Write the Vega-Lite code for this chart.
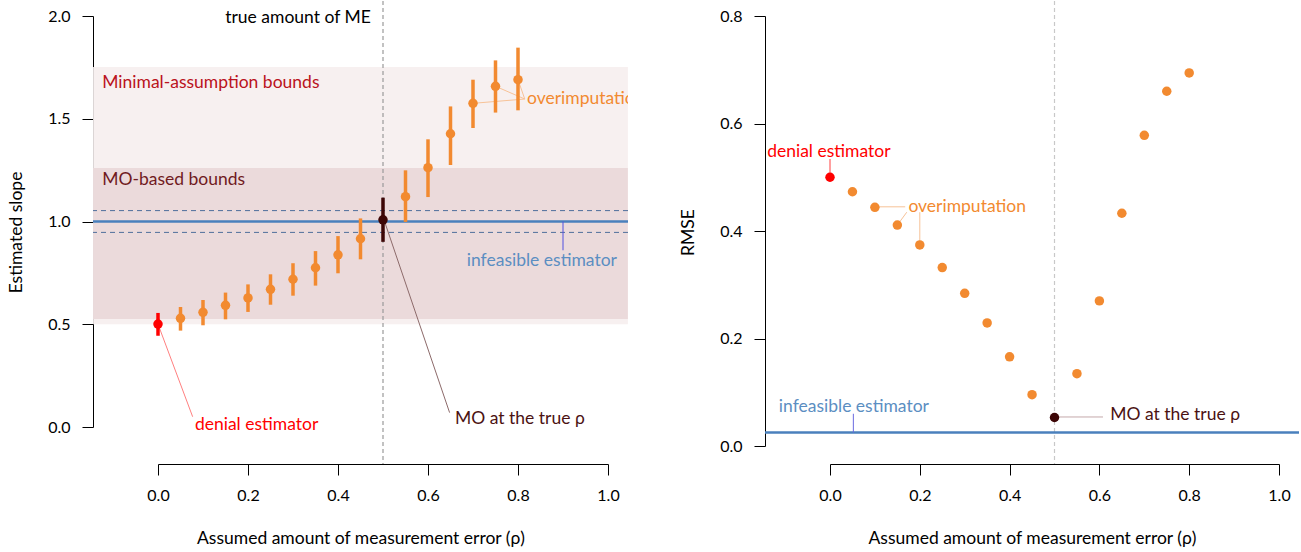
{
  "$schema": "https://vega.github.io/schema/vega-lite/v6.json",
  "padding": {"left": 7, "top": 0, "right": 0, "bottom": 0},
  "background": "white",
  "spacing": 49,
  "config": {
    "font": "Lato",
    "view": {"stroke": null},
    "axis": {"grid": false, "domainColor": "#000", "tickColor": "#000", "tickSize": 11, "labelFontSize": 16, "titleFontSize": 17.5, "titleFontWeight": "normal", "labelColor": "#000", "titleColor": "#000", "labelFont": "Lato", "titleFont": "Lato", "domainWidth": 1, "tickWidth": 1, "labelFlush": false, "labelOverlap": false},
    "axisX": {"labelPadding": 12, "titlePadding": 26},
    "axisY": {"labelPadding": 12, "titlePadding": 22, "labelAngle": 0},
    "text": {"fontSize": 17.5, "baseline": "middle"}
  },
  "hconcat": [
    {
      "width": 535,
      "height": 463,
      "resolve": {"scale": {"color": "independent"}},
      "layer": [
        {
          "data": {"values": [
            {"x": -0.1442, "x2": 1.0442, "lo": 0.5, "hi": 1.752, "band": "min"},
            {"x": -0.1442, "x2": 1.0442, "lo": 0.525, "hi": 1.26, "band": "mo"}
          ]},
          "mark": {"type": "rect"},
          "encoding": {
            "x": {"field": "x", "type": "quantitative", "scale": {"domain": [0, 1], "range": [65, 515]}, "axis": {"title": "Assumed amount of measurement error (ρ)", "values": [0, 0.2, 0.4, 0.6, 0.8, 1], "format": ".1f", "titleX": 267.5}},
            "x2": {"field": "x2"},
            "y": {"field": "lo", "type": "quantitative", "scale": {"domain": [0, 2], "range": [426, 15]}, "axis": {"title": "Estimated slope", "values": [0, 0.5, 1, 1.5, 2], "format": ".1f", "titleY": 231}},
            "y2": {"field": "hi"},
            "color": {"field": "band", "type": "nominal", "scale": {"domain": ["min", "mo"], "range": ["#F7F0F0", "#EBDADB"]}, "legend": null}
          }
        },
        {
          "data": {"values": [{"x": 0.5}]},
          "mark": {"type": "rule", "color": "#9a9a9a", "strokeDash": [4, 3], "strokeWidth": 1.2},
          "encoding": {"x": {"field": "x", "type": "quantitative"}}
        },
        {
          "data": {"values": [{"y": 1.053}, {"y": 0.947}]},
          "mark": {"type": "rule", "color": "#4f6f9c", "strokeDash": [5, 4], "strokeWidth": 1},
          "encoding": {"y": {"field": "y", "type": "quantitative"}}
        },
        {
          "data": {"values": [{"y": 1.0}]},
          "mark": {"type": "rule", "color": "#4A80BD", "strokeWidth": 2.5},
          "encoding": {"y": {"field": "y", "type": "quantitative"}}
        },
        {
          "data": {"values": [
            {"x": 0.003, "y": 0.483, "x2": 0.077, "y2": 0.05, "kind": "denial"},
            {"x": 0.505, "y": 0.99, "x2": 0.648, "y2": 0.07, "kind": "mo"},
            {"x": 0.9, "y": 1.0, "x2": 0.9, "y2": 0.86, "kind": "inf"},
            {"x": 0.7, "y": 1.575, "x2": 0.815, "y2": 1.596, "kind": "over"},
            {"x": 0.75, "y": 1.658, "x2": 0.815, "y2": 1.596, "kind": "over"},
            {"x": 0.8, "y": 1.69, "x2": 0.815, "y2": 1.596, "kind": "over"}
          ]},
          "mark": {"type": "rule", "strokeWidth": 1},
          "encoding": {
            "x": {"field": "x", "type": "quantitative"},
            "x2": {"field": "x2"},
            "y": {"field": "y", "type": "quantitative"},
            "y2": {"field": "y2"},
            "color": {"field": "kind", "type": "nominal", "scale": {"domain": ["denial", "mo", "inf", "over"], "range": ["#ff8080", "#8c6a6a", "#5050e0", "#f7c297"]}, "legend": null}
          }
        },
        {
          "data": {"values": [
            {"rho": 0, "est": 0.501, "lo": 0.444, "hi": 0.555, "type": "denial"},
            {"rho": 0.05, "est": 0.529, "lo": 0.469, "hi": 0.584, "type": "other"},
            {"rho": 0.1, "est": 0.558, "lo": 0.495, "hi": 0.618, "type": "other"},
            {"rho": 0.15, "est": 0.592, "lo": 0.524, "hi": 0.654, "type": "other"},
            {"rho": 0.2, "est": 0.628, "lo": 0.56, "hi": 0.694, "type": "other"},
            {"rho": 0.25, "est": 0.67, "lo": 0.595, "hi": 0.743, "type": "other"},
            {"rho": 0.3, "est": 0.719, "lo": 0.639, "hi": 0.797, "type": "other"},
            {"rho": 0.35, "est": 0.775, "lo": 0.688, "hi": 0.856, "type": "other"},
            {"rho": 0.4, "est": 0.838, "lo": 0.748, "hi": 0.929, "type": "other"},
            {"rho": 0.45, "est": 0.916, "lo": 0.816, "hi": 1.015, "type": "other"},
            {"rho": 0.5, "est": 1.008, "lo": 0.901, "hi": 1.116, "type": "mo"},
            {"rho": 0.55, "est": 1.121, "lo": 0.998, "hi": 1.249, "type": "other"},
            {"rho": 0.6, "est": 1.262, "lo": 1.119, "hi": 1.4, "type": "other"},
            {"rho": 0.65, "est": 1.427, "lo": 1.275, "hi": 1.56, "type": "other"},
            {"rho": 0.7, "est": 1.575, "lo": 1.455, "hi": 1.69, "type": "other"},
            {"rho": 0.75, "est": 1.658, "lo": 1.53, "hi": 1.784, "type": "other"},
            {"rho": 0.8, "est": 1.69, "lo": 1.541, "hi": 1.846, "type": "other"}
          ]},
          "layer": [
            {
              "mark": {"type": "rule", "strokeWidth": 3.5},
              "encoding": {
                "x": {"field": "rho", "type": "quantitative"},
                "y": {"field": "lo", "type": "quantitative"},
                "y2": {"field": "hi"},
                "color": {"field": "type", "type": "nominal", "scale": {"domain": ["denial", "mo", "other"], "range": ["#ff0000", "#3d0606", "#F28A30"]}, "legend": null}
              }
            },
            {
              "mark": {"type": "circle", "size": 90, "opacity": 1},
              "encoding": {
                "x": {"field": "rho", "type": "quantitative"},
                "y": {"field": "est", "type": "quantitative"},
                "color": {"field": "type", "type": "nominal", "legend": null}
              }
            }
          ]
        },
        {
          "data": {"values": [
            {"x": 0.473, "y": 1.99, "label": "true amount of ME"}
          ]},
          "mark": {"type": "text", "align": "right", "color": "#000000"},
          "encoding": {
            "x": {"field": "x", "type": "quantitative"},
            "y": {"field": "y", "type": "quantitative"},
            "text": {"field": "label"}
          }
        },
        {
          "data": {"values": [
            {"x": 0.853, "y": 0.81, "label": "infeasible estimator"}
          ]},
          "mark": {"type": "text", "align": "center", "color": "#5B8EC2"},
          "encoding": {
            "x": {"field": "x", "type": "quantitative"},
            "y": {"field": "y", "type": "quantitative"},
            "text": {"field": "label"}
          }
        },
        {
          "data": {"values": [
            {"x": 0.82, "y": 1.596, "label": "overimputation", "kind": "over"},
            {"x": 0.082, "y": 0.01, "label": "denial estimator", "kind": "denial"},
            {"x": 0.66, "y": 0.039, "label": "MO at the true ρ", "kind": "mo"},
            {"x": -0.124, "y": 1.674, "label": "Minimal-assumption bounds", "kind": "min"},
            {"x": -0.124, "y": 1.202, "label": "MO-based bounds", "kind": "mob"}
          ]},
          "mark": {"type": "text", "align": "left", "clip": true},
          "encoding": {
            "x": {"field": "x", "type": "quantitative"},
            "y": {"field": "y", "type": "quantitative"},
            "text": {"field": "label"},
            "color": {"field": "kind", "type": "nominal", "scale": {"domain": ["over", "denial", "mo", "min", "mob"], "range": ["#F28A30", "#ff0000", "#4B1212", "#BA1320", "#701A1E"]}, "legend": null}
          }
        }
      ]
    },
    {
      "width": 534,
      "height": 463,
      "resolve": {"scale": {"color": "independent"}},
      "layer": [
        {
          "data": {"values": [{"x": 0.5}]},
          "mark": {"type": "rule", "color": "#c8c8c8", "strokeDash": [4, 3], "strokeWidth": 1.2},
          "encoding": {"x": {"field": "x", "type": "quantitative", "scale": {"domain": [0, 1], "range": [65, 514]}, "axis": {"title": "Assumed amount of measurement error (ρ)", "values": [0, 0.2, 0.4, 0.6, 0.8, 1], "format": ".1f", "titleX": 267}}}
        },
        {
          "data": {"values": [{"y": 0.025}]},
          "mark": {"type": "rule", "color": "#4A80BD", "strokeWidth": 2.5},
          "encoding": {"y": {"field": "y", "type": "quantitative", "scale": {"domain": [0, 0.8], "range": [445, 15]}, "axis": {"title": "RMSE", "values": [0, 0.2, 0.4, 0.6, 0.8], "format": ".1f", "titleY": 231}}}
        },
        {
          "data": {"values": [
            {"x": 0, "y": 0.534, "x2": 0, "y2": 0.508, "kind": "denial"},
            {"x": 0.1, "y": 0.445, "x2": 0.1675, "y2": 0.445, "kind": "over"},
            {"x": 0.15, "y": 0.411, "x2": 0.171, "y2": 0.435, "kind": "over"},
            {"x": 0.2, "y": 0.378, "x2": 0.2, "y2": 0.435, "kind": "over"},
            {"x": 0.052, "y": 0.06, "x2": 0.052, "y2": 0.025, "kind": "inf"},
            {"x": 0.506, "y": 0.054, "x2": 0.608, "y2": 0.054, "kind": "mo"}
          ]},
          "mark": {"type": "rule", "strokeWidth": 1},
          "encoding": {
            "x": {"field": "x", "type": "quantitative"},
            "x2": {"field": "x2"},
            "y": {"field": "y", "type": "quantitative"},
            "y2": {"field": "y2"},
            "color": {"field": "kind", "type": "nominal", "scale": {"domain": ["denial", "mo", "inf", "over"], "range": ["#ff4040", "#c4a9ab", "#6a6ae0", "#f7c297"]}, "legend": null}
          }
        },
        {
          "data": {"values": [
            {"rho": 0, "rmse": 0.5, "type": "denial"},
            {"rho": 0.05, "rmse": 0.473, "type": "other"},
            {"rho": 0.1, "rmse": 0.444, "type": "other"},
            {"rho": 0.15, "rmse": 0.411, "type": "other"},
            {"rho": 0.2, "rmse": 0.374, "type": "other"},
            {"rho": 0.25, "rmse": 0.332, "type": "other"},
            {"rho": 0.3, "rmse": 0.284, "type": "other"},
            {"rho": 0.35, "rmse": 0.229, "type": "other"},
            {"rho": 0.4, "rmse": 0.166, "type": "other"},
            {"rho": 0.45, "rmse": 0.0955, "type": "other"},
            {"rho": 0.5, "rmse": 0.053, "type": "mo"},
            {"rho": 0.55, "rmse": 0.1345, "type": "other"},
            {"rho": 0.6, "rmse": 0.27, "type": "other"},
            {"rho": 0.65, "rmse": 0.433, "type": "other"},
            {"rho": 0.7, "rmse": 0.578, "type": "other"},
            {"rho": 0.75, "rmse": 0.66, "type": "other"},
            {"rho": 0.8, "rmse": 0.694, "type": "other"}
          ]},
          "mark": {"type": "circle", "size": 90, "opacity": 1},
          "encoding": {
            "x": {"field": "rho", "type": "quantitative"},
            "y": {"field": "rmse", "type": "quantitative"},
            "color": {"field": "type", "type": "nominal", "scale": {"domain": ["denial", "mo", "other"], "range": ["#ff0000", "#3d0606", "#F28A30"]}, "legend": null}
          }
        },
        {
          "data": {"values": [
            {"x": -0.14, "y": 0.547, "label": "denial estimator", "kind": "denial"},
            {"x": 0.1746, "y": 0.445, "label": "overimputation", "kind": "over"},
            {"x": -0.114, "y": 0.073, "label": "infeasible estimator", "kind": "inf"},
            {"x": 0.624, "y": 0.057, "label": "MO at the true ρ", "kind": "mo"}
          ]},
          "mark": {"type": "text", "align": "left"},
          "encoding": {
            "x": {"field": "x", "type": "quantitative"},
            "y": {"field": "y", "type": "quantitative"},
            "text": {"field": "label"},
            "color": {"field": "kind", "type": "nominal", "scale": {"domain": ["denial", "over", "inf", "mo"], "range": ["#ff0000", "#F28A30", "#5B8EC2", "#4B1212"]}, "legend": null}
          }
        }
      ]
    }
  ]
}
